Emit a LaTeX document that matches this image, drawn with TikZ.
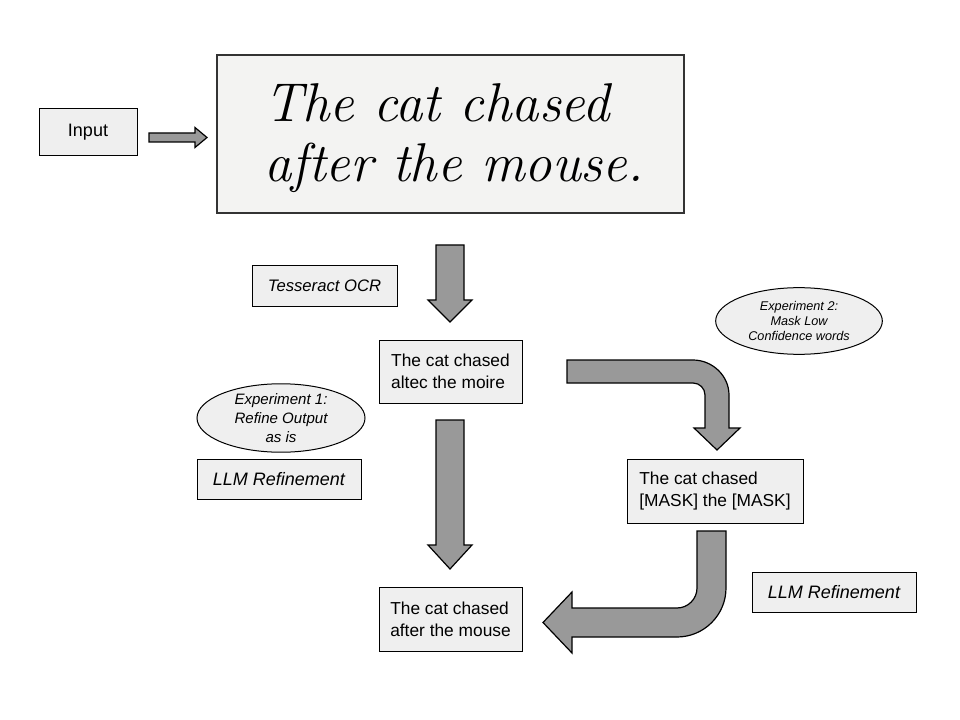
\documentclass[tikz,border=0pt]{standalone}
\usepackage{fontspec}
\setmainfont{Liberation Sans}
\usetikzlibrary{shapes.geometric}
\definecolor{boxgray}{HTML}{EFEFEF}
\definecolor{paper}{HTML}{F3F3F2}
\definecolor{arrowgray}{HTML}{999999}
\begin{document}
\begin{tikzpicture}[x=0.75pt,y=-0.75pt,
  box/.style={draw=black, line width=0.75pt, fill=boxgray, inner sep=0pt, align=left,
    font=\fontsize{13}{16.5}\selectfont},
  labelbox/.style={draw=black, line width=0.75pt, fill=boxgray, inner sep=0pt,
    font=\fontsize{13.5}{16}\selectfont\itshape},
  bubble/.style={ellipse, draw=black, line width=0.75pt, fill=boxgray, inner sep=0pt, align=center},
  blockarrow/.style={draw=black, line width=0.9pt, fill=arrowgray, line join=miter}]
\useasboundingbox (0,0) rectangle (960,720);

% nodes
\node[box, minimum width=73.5pt, minimum height=35.25pt, font=\fontsize{13.5}{16}\selectfont] (input) at (88,132.5) {Input};
\node[draw=black!80, line width=1.5pt, fill=paper, minimum width=350.25pt, minimum height=118.5pt, inner sep=0pt] (image) at (450.5,134) {};
\node[align=left, font=\fontfamily{lmr}\fontshape{it}\fontsize{41}{45}\selectfont] (hand) at (454,138) {The cat chased\\after the mouse.};
\node[labelbox, minimum width=108.75pt, minimum height=30.75pt, font=\fontsize{12.5}{15}\selectfont\itshape] (ocr) at (324.5,286) {Tesseract OCR};
\node[box, minimum width=107.25pt, minimum height=47.25pt] (raw) at (450.5,371.5) {The cat chased\\altec the moire};
\node[bubble, minimum width=126pt, minimum height=49.5pt, font=\fontsize{11.3}{14}\selectfont\itshape] (exp1) at (281,418) {Experiment 1:\\Refine Output\\as is};
\node[labelbox, minimum width=123pt, minimum height=30pt] (llm1) at (279,479) {LLM Refinement};
\node[bubble, minimum width=125pt, minimum height=50pt, font=\fontsize{9.5}{11.5}\selectfont\itshape] (exp2) at (799,321) {Experiment 2:\\Mask Low\\Confidence words};
\node[box, minimum width=132pt, minimum height=48pt] (mask) at (715,491) {The cat chased\\{[MASK]} the [MASK]};
\node[labelbox, minimum width=123pt, minimum height=30pt] (llm2) at (834,592) {LLM Refinement};
\node[box, minimum width=107.25pt, minimum height=48pt] (final) at (450.5,619) {The cat chased\\after the mouse};

% small arrow input -> image
\draw[blockarrow] (149,133) -- (195,133) -- (195,127.5) -- (207,137.5) -- (195,147.5) -- (195,142) -- (149,142) -- cycle;

% down arrow image -> raw
\draw[blockarrow] (436,245) -- (464,245) -- (464,300) -- (472,300) -- (450,322) -- (428,300) -- (436,300) -- cycle;

% down arrow raw -> final
\draw[blockarrow] (436,420) -- (464,420) -- (464,545) -- (472,545) -- (450,569) -- (428,545) -- (436,545) -- cycle;

% bent arrow raw -> mask
\draw[blockarrow] (567,360) -- (693,360) .. controls (712.3,360) and (729,375.7) .. (729,395)
  -- (729,428) -- (740,428) -- (717,450) -- (694,428) -- (705,428) -- (705,395)
  .. controls (705,388.4) and (699.6,383) .. (693,383) -- (567,383) -- cycle;

% bent arrow mask -> final
\draw[blockarrow] (697,531) -- (726,531) -- (726,588) .. controls (726,615) and (704,637) .. (677,637)
  -- (572,637) -- (572,653) -- (543,622.5) -- (572,592) -- (572,608) -- (677,608)
  .. controls (688,608) and (697,599) .. (697,588) -- cycle;
\end{tikzpicture}
\end{document}
